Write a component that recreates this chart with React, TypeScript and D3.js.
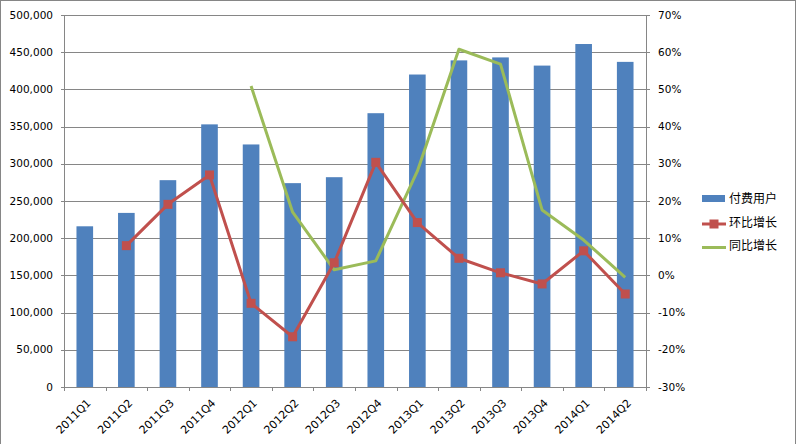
import React from "react";
import * as d3 from "d3";

const categories = ["2011Q1","2011Q2","2011Q3","2011Q4","2012Q1","2012Q2","2012Q3","2012Q4","2013Q1","2013Q2","2013Q3","2013Q4","2014Q1","2014Q2"];
const paidUsers = [216000,234000,278000,353000,326000,274000,282000,368000,420000,439000,443000,432000,461000,437000];
const qoqGrowth: (number | null)[] = [null,8.0,19.1,27.0,-7.5,-16.5,3.4,30.4,14.2,4.6,0.7,-2.3,6.6,-5.0];
const yoyGrowth: (number | null)[] = [null,null,null,null,50.9,17.0,1.5,3.9,28.0,60.8,56.8,17.6,9.5,-0.5];
const leftTicks = [0,50000,100000,150000,200000,250000,300000,350000,400000,450000,500000];
const rightTicks = [-30,-20,-10,0,10,20,30,40,50,60,70];
const seriesNames = ["付费用户","环比增长","同比增长"];

const W = 797, H = 444;
const L = 64, R = 646, T = 15, B = 387;
const BLUE = "#4F81BD", RED = "#C0504D", GREEN = "#9BBB59", GRID = "#868686";
const FONT = "'DejaVu Sans', sans-serif";

export default function App() {
  const step = (R - L) / categories.length;
  const cx = (c: string) => L + step * (categories.indexOf(c) + 0.5);
  const barW = step / 2.5;
  const yL = d3.scaleLinear().domain([0, 500000]).range([B, T]);
  const yR = d3.scaleLinear().domain([-30, 70]).range([B, T]);
  const fmt = d3.format(",");

  const lineGen = d3.line<[string, number | null]>()
    .defined(d => d[1] !== null)
    .x(d => cx(d[0]))
    .y(d => yR(d[1] as number));
  const qoqPts: [string, number | null][] = categories.map((c, i) => [c, qoqGrowth[i]]);
  const yoyPts: [string, number | null][] = categories.map((c, i) => [c, yoyGrowth[i]]);

  return (
    <svg width={W} height={H} style={{ position: "absolute", left: 0, top: 0, background: "#fff" }}>
      <rect x={0.5} y={0.5} width={795} height={460} fill="#fff" stroke={GRID} strokeWidth={1} />
      {leftTicks.map(t => (
        <g key={t}>
          <line x1={L - 3} x2={R} y1={Math.round(yL(t)) + 0.5} y2={Math.round(yL(t)) + 0.5} stroke={GRID} strokeWidth={1} />
          <text x={53} y={yL(t)} dy="0.35em" textAnchor="end" fontFamily={FONT} fontSize={10.5} fill="#000">{fmt(t)}</text>
        </g>
      ))}
      {rightTicks.map(t => (
        <g key={t}>
          <line x1={R} x2={R + 4} y1={Math.round(yR(t)) + 0.5} y2={Math.round(yR(t)) + 0.5} stroke={GRID} strokeWidth={1} />
          <text x={658} y={yR(t)} dy="0.35em" textAnchor="start" fontFamily={FONT} fontSize={10.5} fill="#000">{t}%</text>
        </g>
      ))}
      <line x1={L + 0.5} x2={L + 0.5} y1={T} y2={B} stroke={GRID} />
      <line x1={R + 0.5} x2={R + 0.5} y1={T} y2={B} stroke={GRID} />
      {d3.range(categories.length + 1).map(i => (
        <line key={i} x1={Math.round(L + i * step) + 0.5} x2={Math.round(L + i * step) + 0.5} y1={B} y2={B + 4} stroke={GRID} />
      ))}
      {categories.map((c, i) => (
        <rect key={c} x={cx(c) - barW / 2} y={yL(paidUsers[i])} width={barW} height={B - yL(paidUsers[i])} fill={BLUE} />
      ))}
      <path d={lineGen(yoyPts) || ""} fill="none" stroke={GREEN} strokeWidth={3} strokeLinejoin="round" />
      <path d={lineGen(qoqPts) || ""} fill="none" stroke={RED} strokeWidth={3} strokeLinejoin="round" />
      {qoqPts.filter(d => d[1] !== null).map(d => (
        <rect key={d[0]} x={cx(d[0]) - 4.5} y={yR(d[1] as number) - 4.5} width={9} height={9} fill={RED} />
      ))}
      {categories.map(c => (
        <text key={c} transform={`translate(${cx(c) + 4},${B + 14}) rotate(-45)`} textAnchor="end" dy="0.35em"
          fontFamily={FONT} fontSize={11} fill="#000">{c}</text>
      ))}
      <g fontFamily="'Noto Sans CJK SC', sans-serif" fontSize={12}>
        <rect x={702} y={195} width={23} height={7} fill={BLUE} />
        <text x={729} y={198.5} dy="0.35em">{seriesNames[0]}</text>
        <line x1={702} x2={726} y1={224} y2={224} stroke={RED} strokeWidth={3} />
        <rect x={709.5} y={219.5} width={9} height={9} fill={RED} />
        <text x={729} y={222.5} dy="0.35em">{seriesNames[1]}</text>
        <line x1={702} x2={726} y1={247.5} y2={247.5} stroke={GREEN} strokeWidth={3} />
        <text x={729} y={246} dy="0.35em">{seriesNames[2]}</text>
      </g>
    </svg>
  );
}
